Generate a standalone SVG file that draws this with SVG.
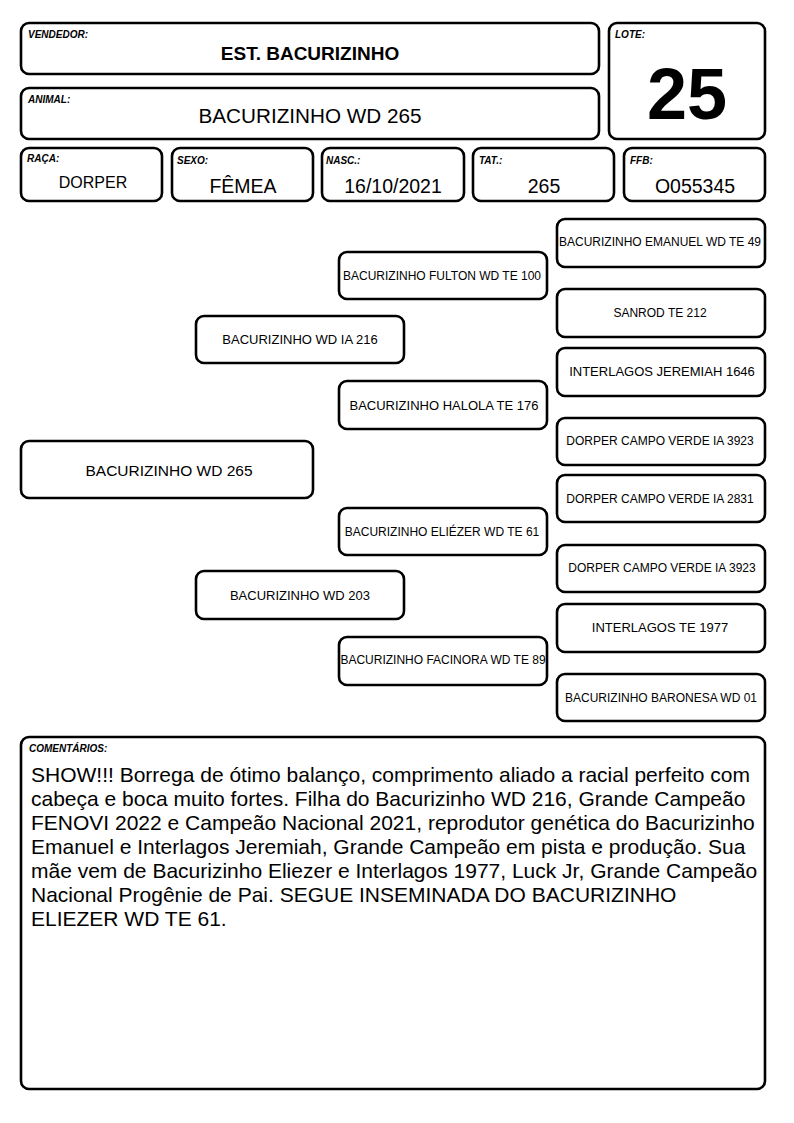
<svg xmlns="http://www.w3.org/2000/svg" width="794" height="1123" viewBox="0 0 794 1123">
<style>
.b{fill:#fff;stroke:#000;stroke-width:2.6}
.lb{font-family:"Liberation Sans",Arial,sans-serif;font-size:10px;font-weight:bold;font-style:italic;fill:#000}
.v{font-family:"Liberation Sans",Arial,sans-serif;fill:#000;text-anchor:middle}
.fv{font-size:19.5px}
.p{font-family:"Liberation Sans",Arial,sans-serif;fill:#000;text-anchor:middle;font-size:12px}
.p13{font-size:13px}
.c{font-family:"Liberation Sans",Arial,sans-serif;font-size:21px;fill:#000}
</style>
<rect width="794" height="1123" fill="#fff"/>
<g id="vendedor">
<rect class="b" x="21" y="23" width="578" height="51" rx="8"/>
<text class="lb" x="28" y="38">VENDEDOR:</text>
<text class="v" x="310" y="60" font-size="19" font-weight="bold">EST. BACURIZINHO</text>
</g>
<g id="animal">
<rect class="b" x="21" y="88" width="578" height="51" rx="8"/>
<text class="lb" x="28" y="103">ANIMAL:</text>
<text class="v" x="310" y="123" font-size="20.7">BACURIZINHO WD 265</text>
</g>
<g id="lote">
<rect class="b" x="609" y="23" width="156" height="116" rx="8"/>
<text class="lb" x="615" y="38">LOTE:</text>
<text class="v" x="687" y="119" font-size="72" font-weight="bold">25</text>
</g>
<g id="raca">
<rect class="b" x="21" y="148" width="141" height="53" rx="8"/>
<text class="lb" x="27" y="162">RAÇA:</text>
<text class="v" x="93" y="188" font-size="16">DORPER</text>
</g>
<g id="sexo">
<rect class="b" x="172" y="148" width="141" height="53" rx="8"/>
<text class="lb" x="177" y="164">SEXO:</text>
<text class="v fv" x="243" y="193">FÊMEA</text>
</g>
<g id="nasc">
<rect class="b" x="322" y="148" width="142" height="53" rx="8"/>
<text class="lb" x="326" y="164">NASC.:</text>
<text class="v fv" x="393" y="193">16/10/2021</text>
</g>
<g id="tat">
<rect class="b" x="473" y="148" width="141" height="53" rx="8"/>
<text class="lb" x="479" y="164">TAT.:</text>
<text class="v fv" x="544" y="193">265</text>
</g>
<g id="ffb">
<rect class="b" x="624" y="148" width="141" height="53" rx="8"/>
<text class="lb" x="630" y="164">FFB:</text>
<text class="v fv" x="695" y="193">O055345</text>
</g>
<g id="connectors"></g>
<g id="ped-main">
<rect class="b" x="21" y="441" width="292" height="57" rx="8"/>
<text class="v" x="169" y="476" font-size="15.5">BACURIZINHO WD 265</text>
</g>
<g id="ped-sire">
<rect class="b" x="196" y="316" width="208" height="47" rx="8"/>
<text class="p p13" x="300" y="344">BACURIZINHO WD IA 216</text>
</g>
<g id="ped-dam">
<rect class="b" x="196" y="571" width="208" height="48" rx="8"/>
<text class="p p13" x="300" y="600">BACURIZINHO WD 203</text>
</g>
<g id="ped-ss">
<rect class="b" x="339" y="252" width="208" height="47" rx="8"/>
<text class="p" x="442" y="280">BACURIZINHO FULTON WD TE 100</text>
</g>
<g id="ped-sd">
<rect class="b" x="339" y="381" width="208" height="48" rx="8"/>
<text class="p p13" x="444" y="410">BACURIZINHO HALOLA TE 176</text>
</g>
<g id="ped-ds">
<rect class="b" x="339" y="508" width="208" height="47" rx="8"/>
<text class="p" x="442" y="536">BACURIZINHO ELIÉZER WD TE 61</text>
</g>
<g id="ped-dd">
<rect class="b" x="339" y="637" width="208" height="48" rx="8"/>
<text class="p" x="443" y="664">BACURIZINHO FACINORA WD TE 89</text>
</g>
<g id="ped-sss">
<rect class="b" x="557" y="219" width="208" height="48" rx="8"/>
<text class="p" x="660" y="246">BACURIZINHO EMANUEL WD TE 49</text>
</g>
<g id="ped-ssd">
<rect class="b" x="557" y="289" width="208" height="48" rx="8"/>
<text class="p" x="660" y="317">SANROD TE 212</text>
</g>
<g id="ped-sds">
<rect class="b" x="557" y="348" width="208" height="48" rx="8"/>
<text class="p p13" x="662" y="376">INTERLAGOS JEREMIAH 1646</text>
</g>
<g id="ped-sdd">
<rect class="b" x="557" y="418" width="208" height="47" rx="8"/>
<text class="p" x="660" y="445">DORPER CAMPO VERDE IA 3923</text>
</g>
<g id="ped-dss">
<rect class="b" x="557" y="475" width="208" height="47" rx="8"/>
<text class="p" x="660" y="503">DORPER CAMPO VERDE IA 2831</text>
</g>
<g id="ped-dsd">
<rect class="b" x="557" y="545" width="208" height="47" rx="8"/>
<text class="p" x="662" y="572">DORPER CAMPO VERDE IA 3923</text>
</g>
<g id="ped-dds">
<rect class="b" x="557" y="604" width="208" height="48" rx="8"/>
<text class="p p13" x="660" y="632">INTERLAGOS TE 1977</text>
</g>
<g id="ped-ddd">
<rect class="b" x="557" y="674" width="208" height="47" rx="8"/>
<text class="p" x="661" y="702">BACURIZINHO BARONESA WD 01</text>
</g>
<g id="comentarios">
<rect class="b" x="21" y="737" width="744" height="352" rx="8"/>
<text class="lb" x="29" y="752">COMENTÁRIOS:</text>
<text class="c" x="31" y="782">SHOW!!! Borrega de ótimo balanço, comprimento aliado a racial perfeito com</text>
<text class="c" x="31" y="806">cabeça e boca muito fortes. Filha do Bacurizinho WD 216, Grande Campeão</text>
<text class="c" x="31" y="830">FENOVI 2022 e Campeão Nacional 2021, reprodutor genética do Bacurizinho</text>
<text class="c" x="31" y="854">Emanuel e Interlagos Jeremiah, Grande Campeão em pista e produção. Sua</text>
<text class="c" x="31" y="878">mãe vem de Bacurizinho Eliezer e Interlagos 1977, Luck Jr, Grande Campeão</text>
<text class="c" x="31" y="902">Nacional Progênie de Pai. SEGUE INSEMINADA DO BACURIZINHO</text>
<text class="c" x="31" y="926">ELIEZER WD TE 61.</text>
</g>
</svg>
